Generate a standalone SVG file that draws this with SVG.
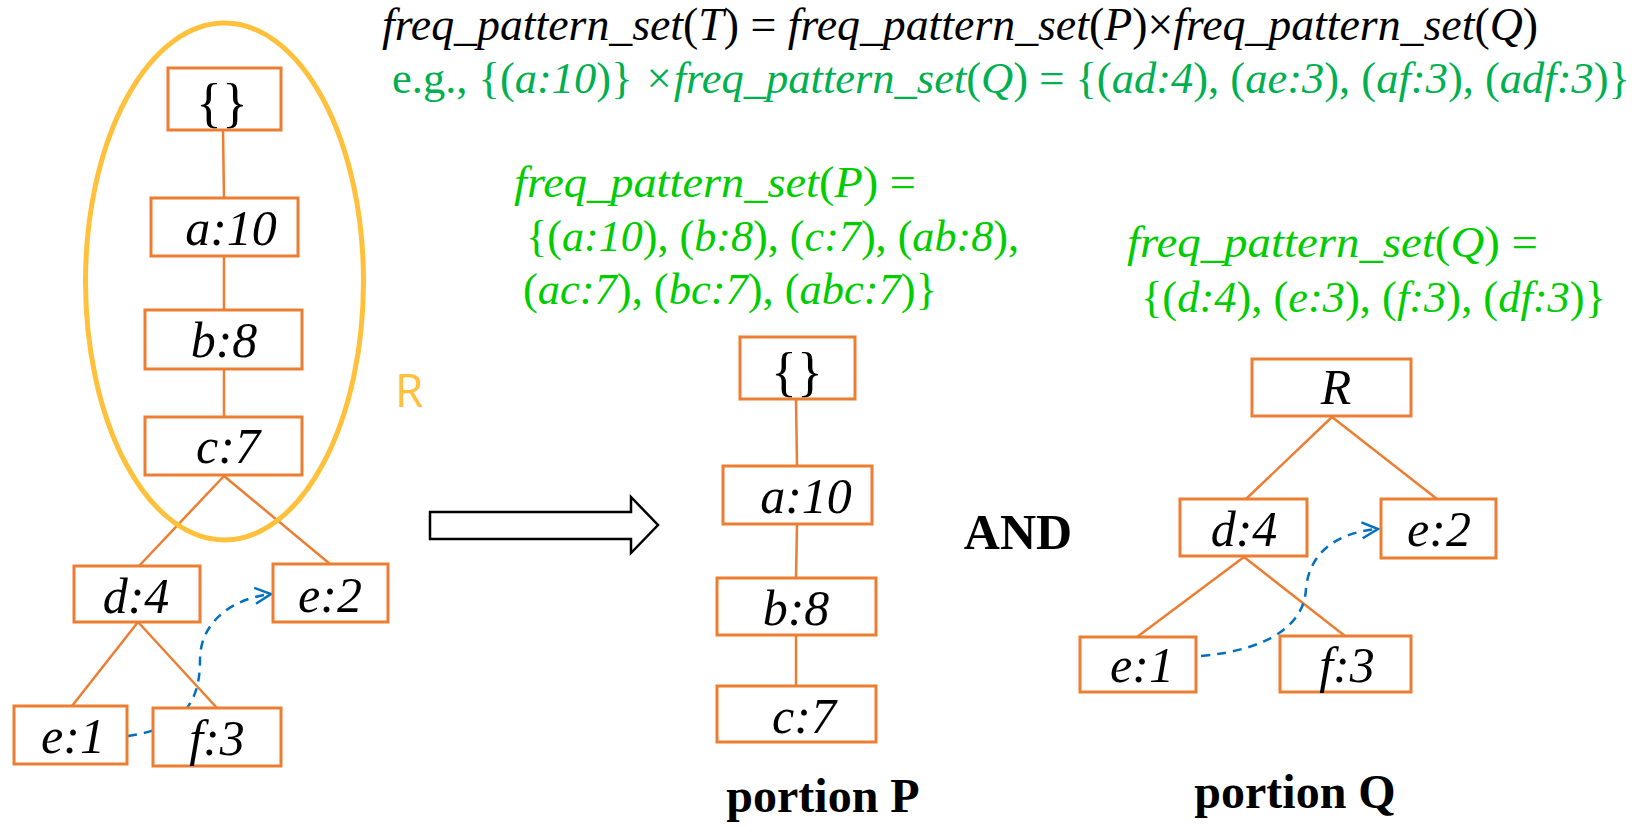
<svg xmlns="http://www.w3.org/2000/svg" width="1642" height="838" viewBox="0 0 1642 838">
<style>
.box{fill:#fff;stroke:#ED7D31;stroke-width:3}
.edge{stroke:#ED7D31;stroke-width:2.5;fill:none}
.dash{stroke:#0070C0;stroke-width:2.5;fill:none;stroke-dasharray:9 7}
.lbl{font-family:"Liberation Serif","Times New Roman",serif;font-style:italic;font-size:50px;fill:#000;text-anchor:middle}
.br{font-family:"Liberation Serif","Times New Roman",serif;font-size:54px;fill:#000;text-anchor:middle}
.f{font-family:"Liberation Serif","Times New Roman",serif;font-style:italic}
.n{font-style:normal}
.bold{font-family:"Liberation Serif","Times New Roman",serif;font-weight:bold;fill:#000;text-anchor:middle}
</style>
<defs>
<marker id="chev" markerUnits="userSpaceOnUse" markerWidth="20" markerHeight="20" refX="17" refY="9" orient="auto" viewBox="0 0 20 18">
<path d="M1,1 L17,9 L1,17" fill="none" stroke="#0070C0" stroke-width="2.5"/>
</marker>
</defs>

<!-- texts -->
<text class="f" x="382" y="40" font-size="46" fill="#000" textLength="1156" lengthAdjust="spacingAndGlyphs">freq_pattern_set<tspan class="n">(</tspan>T<tspan class="n">) = </tspan>freq_pattern_set<tspan class="n">(</tspan>P<tspan class="n">)×</tspan>freq_pattern_set<tspan class="n">(</tspan>Q<tspan class="n">)</tspan></text>
<text class="f" x="392" y="93" font-size="44" fill="#00B050" textLength="1238" lengthAdjust="spacingAndGlyphs"><tspan class="n">e.g., {(</tspan>a:10<tspan class="n">)} </tspan>×freq_pattern_set<tspan class="n">(</tspan>Q<tspan class="n">) = {(</tspan>ad:4<tspan class="n">), (</tspan>ae:3<tspan class="n">), (</tspan>af:3<tspan class="n">), (</tspan>adf:3<tspan class="n">)}</tspan></text>

<g id="setP" fill="#00CC00" font-size="44">
<text class="f" x="514" y="197" textLength="402" lengthAdjust="spacingAndGlyphs">freq_pattern_set<tspan class="n">(</tspan>P<tspan class="n">) =</tspan></text>
<text class="f" x="526" y="251" textLength="493" lengthAdjust="spacingAndGlyphs"><tspan class="n">{(</tspan>a:10<tspan class="n">), (</tspan>b:8<tspan class="n">), (</tspan>c:7<tspan class="n">), (</tspan>ab:8<tspan class="n">),</tspan></text>
<text class="f" x="523" y="304" textLength="414" lengthAdjust="spacingAndGlyphs"><tspan class="n">(</tspan>ac:7<tspan class="n">), (</tspan>bc:7<tspan class="n">), (</tspan>abc:7<tspan class="n">)}</tspan></text>
</g>
<g id="setQ" fill="#00CC00" font-size="44">
<text class="f" x="1127" y="257" textLength="411" lengthAdjust="spacingAndGlyphs">freq_pattern_set<tspan class="n">(</tspan>Q<tspan class="n">) =</tspan></text>
<text class="f" x="1141" y="312" textLength="465" lengthAdjust="spacingAndGlyphs"><tspan class="n">{(</tspan>d:4<tspan class="n">), (</tspan>e:3<tspan class="n">), (</tspan>f:3<tspan class="n">), (</tspan>df:3<tspan class="n">)}</tspan></text>
</g>

<!-- connectors -->
<g id="connectors">
<line class="edge" x1="223" y1="130" x2="224" y2="198"/>
<line class="edge" x1="224" y1="256" x2="224" y2="310"/>
<line class="edge" x1="224" y1="369" x2="224" y2="417"/>
<line class="edge" x1="224" y1="476" x2="139" y2="566"/>
<line class="edge" x1="224" y1="476" x2="330" y2="564"/>
<line class="edge" x1="138" y1="622" x2="72" y2="706"/>
<line class="edge" x1="138" y1="622" x2="217" y2="708"/>
<path class="dash" d="M128,736 C185,728 200,700 200,660 C200,620 235,598 271,594" marker-end="url(#chev)"/>

<line class="edge" x1="796" y1="399" x2="797" y2="466"/>
<line class="edge" x1="797" y1="524" x2="796" y2="578"/>
<line class="edge" x1="796" y1="635" x2="796" y2="686"/>

<line class="edge" x1="1332" y1="417" x2="1246" y2="499"/>
<line class="edge" x1="1332" y1="417" x2="1437" y2="499"/>
<line class="edge" x1="1244" y1="557" x2="1137" y2="637"/>
<line class="edge" x1="1244" y1="557" x2="1345" y2="636"/>
<path class="dash" d="M1201,656 C1268,650 1305,625 1306,588 C1310,550 1340,532 1378,529" marker-end="url(#chev)"/>

<path d="M430,512 L631,512 L631,497 L658,525 L631,553 L631,539 L430,539 Z" fill="#fff" stroke="#000" stroke-width="2.5" stroke-linejoin="miter"/>
</g>

<!-- left tree nodes -->
<g id="L-root"><rect class="box" x="168" y="68" width="113" height="62"/><text class="br" x="222" y="121">{}</text></g>
<g id="L-a"><rect class="box" x="151" y="198" width="147" height="58"/><text class="lbl" x="231" y="245">a:10</text></g>
<g id="L-b"><rect class="box" x="145" y="310" width="157" height="59"/><text class="lbl" x="224" y="357">b:8</text></g>
<g id="L-c"><rect class="box" x="145" y="417" width="157" height="58"/><text class="lbl" x="228" y="463">c:7</text></g>
<g id="L-d"><rect class="box" x="74" y="566" width="126" height="56"/><text class="lbl" x="136" y="613">d:4</text></g>
<g id="L-e2"><rect class="box" x="273" y="564" width="115" height="58"/><text class="lbl" x="330" y="612">e:2</text></g>
<g id="L-e1"><rect class="box" x="14" y="706" width="113" height="58"/><text class="lbl" x="73" y="753">e:1</text></g>
<g id="L-f3"><rect class="box" x="153" y="708" width="128" height="58"/><text class="lbl" x="217" y="755">f:3</text></g>

<g id="R-ellipse">
<ellipse cx="224.5" cy="281.5" rx="139" ry="258.5" fill="none" stroke="#FFC13B" stroke-width="5"/>
<text x="395" y="407" font-family="'Open Sans','Liberation Sans',sans-serif" font-size="46" fill="#FFC13B">R</text>
</g>

<!-- middle tree -->
<g id="P-root"><rect class="box" x="740" y="337" width="115" height="62"/><text class="br" x="797" y="390">{}</text></g>
<g id="P-a"><rect class="box" x="723" y="466" width="149" height="58"/><text class="lbl" x="806" y="513">a:10</text></g>
<g id="P-b"><rect class="box" x="717" y="578" width="159" height="57"/><text class="lbl" x="796" y="625">b:8</text></g>
<g id="P-c"><rect class="box" x="717" y="686" width="159" height="56"/><text class="lbl" x="804" y="733">c:7</text></g>

<text class="bold" x="1018" y="549" font-size="50">AND</text>
<text class="bold" x="823" y="812" font-size="48">portion P</text>
<text class="bold" x="1295" y="808" font-size="48">portion Q</text>

<!-- right tree -->
<g id="Q-root"><rect class="box" x="1252" y="359" width="159" height="57"/><text class="lbl" x="1336" y="404">R</text></g>
<g id="Q-d"><rect class="box" x="1180" y="499" width="127" height="57"/><text class="lbl" x="1244" y="546">d:4</text></g>
<g id="Q-e2"><rect class="box" x="1381" y="499" width="115" height="59"/><text class="lbl" x="1439" y="546">e:2</text></g>
<g id="Q-e1"><rect class="box" x="1080" y="637" width="116" height="55"/><text class="lbl" x="1142" y="682">e:1</text></g>
<g id="Q-f3"><rect class="box" x="1280" y="636" width="131" height="56"/><text class="lbl" x="1347" y="682">f:3</text></g>
</svg>
